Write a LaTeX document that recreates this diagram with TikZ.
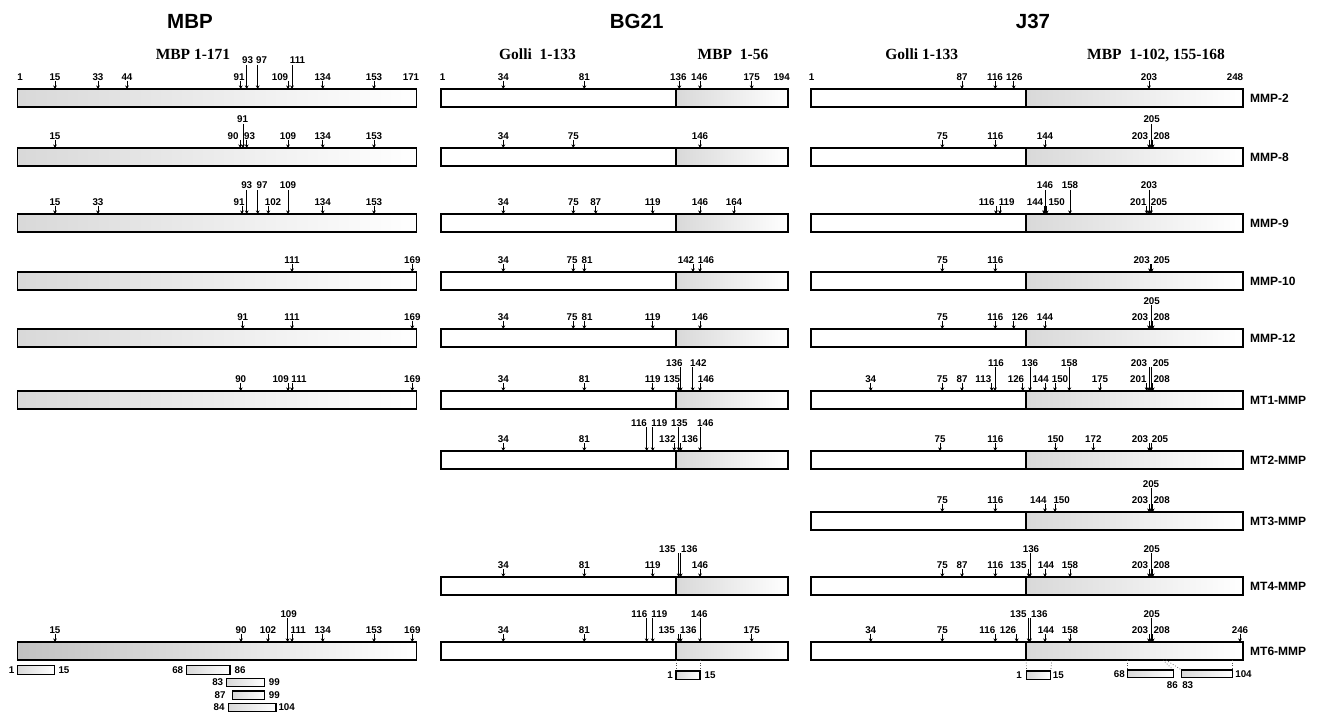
\documentclass[tikz,border=0pt]{standalone}
\usepackage{fontspec}
\setmainfont{Liberation Sans}
\newfontfamily\tms{Liberation Serif}
\usetikzlibrary{arrows.meta}
\newcounter{tkc}
\tikzset{
  tkarrow/.style={line width=0.9pt,-{Stealth[length=3.6pt,width=3.8pt]}},
  tklab/.style={anchor=base,inner sep=0pt,font=\fontsize{9.8}{11}\selectfont\bfseries},
  flab/.style={anchor=center,inner sep=0pt,font=\fontsize{9.8}{11}\selectfont\bfseries},
  bar/.style={draw=black,line width=1.8pt},
  fragbox/.style={draw=black,line width=1.4pt,left color=gray!30,right color=white},
  dots/.style={dotted,line width=0.7pt,black!70},
  title/.style={anchor=base,inner sep=0pt,font=\fontsize{20.5}{24}\selectfont\bfseries},
  sub/.style={anchor=base,inner sep=0pt,font=\tms\bfseries\fontsize{15.5}{18}\selectfont},
  rowlab/.style={anchor=west,inner sep=0pt,font=\fontsize{12}{14}\selectfont\bfseries}
}
\newcommand\tkl[3]{\stepcounter{tkc}\node[tklab] (t\arabic{tkc}) at (#2,\yb-8.5) {#3};\draw[tkarrow] (#1,\yb-8) -- (#1,\yb);}
\newcommand\tku[3]{\stepcounter{tkc}\node[tklab] (t\arabic{tkc}) at (#2,\yb-25) {#3};\draw[tkarrow] (#1,\yb-24) -- (#1,\yb);}
\newcommand\lbl[2]{\stepcounter{tkc}\node[tklab] (t\arabic{tkc}) at (#1,\yb-8.5) {#2};}
\newcommand\mbpbar[1]{\shade[left color=#1,right color=white] (17.5,\yb) rectangle (416.5,\yb+18);\draw[bar] (17.5,\yb) rectangle (416.5,\yb+18);}
\newcommand\bgbar{\shade[left color=gray!30,right color=white] (676,\yb) rectangle (787.7,\yb+18);\draw[bar] (440.7,\yb) rectangle (787.7,\yb+18);\draw[bar] (676,\yb) -- (676,\yb+18);}
\newcommand\jbar[1]{\shade[left color=gray!30,right color=white] (1026,\yb) rectangle (1243.3,\yb+18);\draw[bar] (810.7,\yb) rectangle (1243.3,\yb+18);\draw[bar] (1026,\yb) -- (1026,\yb+18);\stepcounter{tkc}\node[rowlab] (r\arabic{tkc}) at (1250,\yb+9) {#1};}
\begin{document}
\begin{tikzpicture}[x=1pt,y=-1pt]
\useasboundingbox (0,0) rectangle (1341,714);
\fill[white] (0,0) rectangle (1341,714);
% titles
\node[title] (hMBP) at (190,28.5) {MBP};
\node[title] (hBG) at (636.7,28.5) {BG21};
\node[title] (hJ) at (1033,28.5) {J37};
\node[sub] (s1) at (193,59.5) {MBP 1-171};
\node[sub] (s2) at (537.5,59.5) {Golli\ \ 1-133};
\node[sub] (s3) at (733,59.5) {MBP\ \ 1-56};
\node[sub] (s4) at (921.8,59.5) {Golli 1-133};
\node[sub] (s5) at (1156,59.5) {MBP\ \ 1-102, 155-168};
%================ MBP column
\def\yb{89}
\mbpbar{gray!30}
\lbl{20}{1}\tkl{55}{55}{15}\tkl{98}{98}{33}\tkl{127}{127}{44}
\tkl{240.7}{239}{91}\tku{246.7}{247.5}{93}\tku{257.7}{261.5}{97}
\tkl{288}{280}{109}\tku{292}{297.5}{111}\tkl{322.7}{322.7}{134}\tkl{374}{374}{153}\lbl{411}{171}
\def\yb{148}
\mbpbar{gray!30}
\tkl{55}{55}{15}\tkl{240.2}{233}{90}\tku{243}{242.5}{91}\tkl{246.7}{249.5}{93}
\tkl{288}{288}{109}\tkl{322.7}{322.7}{134}\tkl{374}{374}{153}
\def\yb{214}
\mbpbar{gray!30}
\tkl{55}{55}{15}\tkl{98}{98}{33}\tkl{242}{239}{91}\tku{246.7}{246.7}{93}\tku{257.7}{262}{97}
\tkl{268.3}{273}{102}\tku{288}{288}{109}\tkl{322.7}{322.7}{134}\tkl{374}{374}{153}
\def\yb{272}
\mbpbar{gray!30}
\tkl{292}{292}{111}\tkl{412.3}{412.3}{169}
\def\yb{329}
\mbpbar{gray!30}
\tkl{242.7}{242.7}{91}\tkl{292}{292}{111}\tkl{412.3}{412.3}{169}
\def\yb{391}
\mbpbar{gray!30}
\tkl{240.7}{240.7}{90}\tkl{288}{280.7}{109}\tkl{292}{299}{111}\tkl{412.3}{412.3}{169}
\def\yb{642}
\mbpbar{gray!48}
\tkl{55}{55}{15}\tkl{241}{241}{90}\tkl{268}{268}{102}\tku{287.6}{288.7}{109}\tkl{292}{298.3}{111}
\tkl{322.7}{322.7}{134}\tkl{374}{374}{153}\tkl{412.3}{412.3}{169}
% MBP fragments
\shadedraw[fragbox] (17.3,665.7) rectangle (54.3,674.3);
\node[flab] (f1a) at (11.7,670) {1};\node[flab] (f1b) at (64,670) {15};
\shadedraw[fragbox] (186.7,665.7) rectangle (230,674.3);
\node[flab] (f2a) at (177.7,670) {68};\node[flab] (f2b) at (240,670) {86};
\shadedraw[fragbox] (226.7,678.3) rectangle (264.3,686.7);
\node[flab] (f3a) at (217.7,682.5) {83};\node[flab] (f3b) at (274.3,682.5) {99};
\shadedraw[fragbox] (232.3,691) rectangle (264.3,699.3);
\node[flab] (f4a) at (220,695) {87};\node[flab] (f4b) at (274.3,695) {99};
\shadedraw[fragbox] (228.3,703.3) rectangle (276,711.7);
\node[flab] (f5a) at (219,707.5) {84};\node[flab] (f5b) at (286.7,707.5) {104};
%================ BG21 column
\def\yb{89}
\bgbar
\lbl{442.7}{1}\tkl{503.3}{503.3}{34}\tkl{584.3}{584.3}{81}\tkl{679.3}{678.3}{136}\tkl{700}{699.3}{146}
\tkl{751.7}{751.7}{175}\lbl{781.7}{194}
\def\yb{148}
\bgbar
\tkl{503.3}{503.3}{34}\tkl{573.3}{573.3}{75}\tkl{700}{700}{146}
\def\yb{214}
\bgbar
\tkl{503.3}{503.3}{34}\tkl{573.3}{573.3}{75}\tkl{595.7}{595.7}{87}\tkl{652.7}{652.7}{119}
\tkl{700}{700}{146}\tkl{734}{734}{164}
\def\yb{272}
\bgbar
\tkl{503.3}{503.3}{34}\tkl{573.3}{572}{75}\tkl{584.3}{587}{81}\tkl{693}{686}{142}\tkl{700}{706}{146}
\def\yb{329}
\bgbar
\tkl{503.3}{503.3}{34}\tkl{573.3}{572}{75}\tkl{584.3}{587}{81}\tkl{652.7}{652.7}{119}\tkl{700}{700}{146}
\def\yb{391}
\bgbar
\tkl{503.3}{503.3}{34}\tkl{584.3}{584.3}{81}\tkl{652.7}{652.7}{119}\tkl{678.7}{672}{135}
\tku{680.7}{674.3}{136}\tku{692.7}{698.3}{142}\tkl{700}{706}{146}
\def\yb{451}
\bgbar
\tkl{503.3}{503.3}{34}\tkl{584.3}{584.3}{81}\tku{646.7}{639}{116}\tku{652.7}{659.3}{119}
\tku{678.7}{679.3}{135}\tku{700}{705.3}{146}\tkl{674.3}{667.3}{132}\tkl{680.7}{690}{136}
\def\yb{577}
\bgbar
\tkl{503.3}{503.3}{34}\tkl{584.3}{584.3}{81}\tkl{652.7}{652.7}{119}\tku{678.7}{667.3}{135}
\tku{680.7}{689.3}{136}\tkl{700}{700}{146}
\def\yb{642}
\bgbar
\tkl{503.3}{503.3}{34}\tkl{584.3}{584.3}{81}\tku{646.7}{639.3}{116}\tku{652.7}{659.3}{119}
\tkl{678.7}{666.7}{135}\tkl{680.7}{688.3}{136}\tku{700}{699.3}{146}\tkl{751.7}{751.7}{175}
% BG21 fragment
\coordinate (bga) at (676,660);\coordinate (bgb) at (700,660);
\coordinate (bgc) at (676,671);\coordinate (bgd) at (700,671);
\draw[dots] (bga) -- (bgc);\draw[dots] (bgb) -- (bgd);
\shadedraw[fragbox] (bgc) rectangle (700,679.3);
\node[flab] (bf1) at (670,675.3) {1};\node[flab] (bf2) at (710,675.3) {15};
%================ J37 column
\def\yb{89}
\jbar{MMP-2}
\lbl{811.7}{1}\tkl{962}{962}{87}\tkl{995.3}{995}{116}\tkl{1013.7}{1014.3}{126}\tkl{1149}{1149}{203}\lbl{1235}{248}
\def\yb{148}
\jbar{MMP-8}
\tkl{942.3}{942.3}{75}\tkl{995.3}{995.3}{116}\tkl{1045}{1045}{144}
\tkl{1149}{1140}{203}\tku{1151}{1151.7}{205}\tkl{1152.7}{1161.7}{208}
\def\yb{214}
\jbar{MMP-9}
\tkl{996}{986.7}{116}\tkl{1000}{1006.7}{119}\tkl{1044}{1035}{144}\tku{1045}{1045}{146}
\tkl{1046.7}{1056.7}{150}\tku{1070}{1070}{158}\tkl{1146.7}{1138.3}{201}\tku{1149}{1149}{203}\tkl{1151}{1159}{205}
\def\yb{272}
\jbar{MMP-10}
\tkl{942.3}{942.3}{75}\tkl{995.3}{995.3}{116}\tkl{1150}{1141.7}{203}\tkl{1151.7}{1161.7}{205}
\def\yb{329}
\jbar{MMP-12}
\tkl{942.3}{942.3}{75}\tkl{995.3}{995.3}{116}\tkl{1013.7}{1020}{126}\tkl{1045}{1045}{144}
\tkl{1149}{1140}{203}\tku{1151}{1151.7}{205}\tkl{1152.7}{1161.7}{208}
\def\yb{391}
\jbar{MT1-MMP}
\tkl{870.7}{870.7}{34}\tkl{942.3}{942.3}{75}\tkl{962}{962}{87}\tkl{991.7}{983.3}{113}\tku{995}{996}{116}
\tkl{1022.7}{1016}{126}\tku{1030}{1030}{136}\tkl{1045}{1040.7}{144}\tkl{1055}{1060}{150}
\tku{1069.3}{1069.3}{158}\tkl{1100}{1100}{175}\tkl{1146.7}{1138.3}{201}\tku{1149}{1139}{203}
\tku{1151}{1161}{205}\tkl{1152.7}{1161.7}{208}
\def\yb{451}
\jbar{MT2-MMP}
\tkl{940}{940}{75}\tkl{995.3}{995.3}{116}\tkl{1055.7}{1055.7}{150}\tkl{1093.3}{1093.3}{172}
\tkl{1149}{1140}{203}\tkl{1151}{1160}{205}
\def\yb{512}
\jbar{MT3-MMP}
\tkl{942.3}{942.3}{75}\tkl{995.3}{995.3}{116}\tkl{1045}{1038.3}{144}\tkl{1055}{1061.7}{150}
\tkl{1149}{1140}{203}\tku{1151}{1151}{205}\tkl{1152.7}{1161.7}{208}
\def\yb{577}
\jbar{MT4-MMP}
\tkl{942.3}{942.3}{75}\tkl{962}{962}{87}\tkl{995.3}{995.3}{116}\tkl{1028.7}{1018.3}{135}\tku{1030}{1031}{136}
\tkl{1045}{1046}{144}\tkl{1070}{1070}{158}\tkl{1149}{1140}{203}\tku{1151}{1151.7}{205}\tkl{1152.7}{1161.7}{208}
\def\yb{642}
\jbar{MT6-MMP}
\tkl{870.7}{870.7}{34}\tkl{942.3}{942.3}{75}\tkl{995.3}{987.3}{116}\tkl{1016.7}{1008}{126}
\tku{1028.7}{1018.3}{135}\tku{1030}{1039.3}{136}\tkl{1045}{1046}{144}\tkl{1070}{1070}{158}
\tkl{1149}{1140}{203}\tku{1151}{1151.7}{205}\tkl{1152.7}{1161.7}{208}\tkl{1240}{1240}{246}
% J37 fragments
\coordinate (ja) at (1026,660);\coordinate (jb) at (1051.7,660);
\coordinate (jc) at (1026.7,671);\coordinate (jd) at (1050.7,671);
\draw[dots] (ja) -- (jc);\draw[dots] (jb) -- (jd);
\shadedraw[fragbox] (jc) rectangle (1050.7,679.3);
\node[flab] (jf1) at (1019,675.3) {1};\node[flab] (jf2) at (1058.3,675.3) {15};
\coordinate (je) at (1127.7,660);\coordinate (jf) at (1163,660);\coordinate (jg) at (1166,660);\coordinate (jh) at (1232.3,660);
\coordinate (ji) at (1127.7,670);\coordinate (jj) at (1173.3,670);\coordinate (jk) at (1181.7,670);\coordinate (jl) at (1232.3,670);
\draw[dots] (je) -- (ji);\draw[dots] (jf) -- (jj);\draw[dots] (jg) -- (jk);\draw[dots] (jh) -- (jl);
\shadedraw[fragbox] (ji) rectangle (1173.3,677.7);
\shadedraw[fragbox] (jk) rectangle (1232.3,677.7);
\node[flab] (jf3) at (1119.3,674) {68};\node[flab] (jf4) at (1172.3,684.8) {86};
\node[flab] (jf5) at (1187.7,684.8) {83};\node[flab] (jf6) at (1243.5,674) {104};
\end{tikzpicture}
\end{document}
